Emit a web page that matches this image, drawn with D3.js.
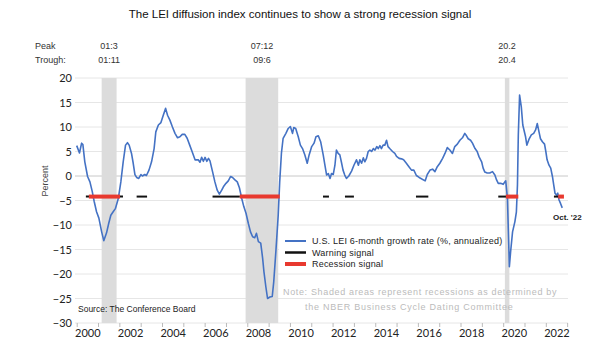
<!DOCTYPE html>
<html>
<head>
<meta charset="utf-8">
<title>LEI recession signal</title>
<script src="https://cdn.jsdelivr.net/npm/d3@7"></script>
<style>
    body { margin: 0; background: #fff; }
    svg { display: block; }
</style>
</head>
<body>
<div id="chart"></div>
<script>
/* ---- DATA -------------------------------------------------------------- */

// month (as decimal year) and U.S. LEI 6-month growth rate, % annualized
var dates = [
    2000.00, 2000.13, 2000.23, 2000.29, 2000.38, 2000.51, 2000.62, 2000.73, 2000.82, 2000.93,
    2001.04, 2001.17, 2001.27, 2001.40, 2001.50, 2001.60, 2001.71, 2001.82, 2001.95, 2002.07,
    2002.18, 2002.29, 2002.38, 2002.46, 2002.57, 2002.65, 2002.73, 2002.81, 2002.91, 2003.01,
    2003.08, 2003.19, 2003.27, 2003.39, 2003.51, 2003.63, 2003.71, 2003.83, 2003.95, 2004.06,
    2004.17, 2004.26, 2004.37, 2004.49, 2004.61, 2004.73, 2004.84, 2004.95, 2005.07, 2005.18,
    2005.30, 2005.41, 2005.55, 2005.70, 2005.78, 2005.86, 2005.94, 2006.02, 2006.10, 2006.18,
    2006.25, 2006.37, 2006.48, 2006.59, 2006.69, 2006.80, 2006.88, 2007.00, 2007.11, 2007.22,
    2007.31, 2007.42, 2007.53, 2007.63, 2007.74, 2007.84, 2007.94, 2008.05, 2008.15, 2008.25,
    2008.35, 2008.43, 2008.52, 2008.63, 2008.72, 2008.78, 2008.87, 2008.95, 2009.06, 2009.17,
    2009.24, 2009.34, 2009.45, 2009.52, 2009.60, 2009.68, 2009.81, 2009.92, 2010.02, 2010.12,
    2010.18, 2010.27, 2010.39, 2010.49, 2010.59, 2010.70, 2010.81, 2010.90, 2011.02, 2011.13,
    2011.22, 2011.33, 2011.44, 2011.56, 2011.64, 2011.72, 2011.80, 2011.88, 2011.95, 2012.03,
    2012.11, 2012.18, 2012.26, 2012.34, 2012.41, 2012.49, 2012.57, 2012.65, 2012.76, 2012.89,
    2013.00, 2013.12, 2013.21, 2013.28, 2013.36, 2013.44, 2013.51, 2013.59, 2013.67, 2013.75,
    2013.83, 2013.91, 2013.99, 2014.07, 2014.14, 2014.22, 2014.29, 2014.37, 2014.45, 2014.53,
    2014.60, 2014.68, 2014.81, 2014.92, 2015.00, 2015.12, 2015.23, 2015.33, 2015.46, 2015.58,
    2015.70, 2015.81, 2015.93, 2016.06, 2016.34, 2016.44, 2016.57, 2016.69, 2016.80,
    2016.91, 2017.03, 2017.16, 2017.27, 2017.38, 2017.50, 2017.62, 2017.73, 2017.85, 2017.97,
    2018.09, 2018.20, 2018.28, 2018.36, 2018.47, 2018.56, 2018.68, 2018.78, 2018.87, 2018.99,
    2019.06, 2019.14, 2019.25, 2019.37, 2019.50, 2019.61, 2019.69, 2019.77, 2019.88, 2020.00,
    2020.08, 2020.12, 2020.20, 2020.24, 2020.29, 2020.35, 2020.44, 2020.55, 2020.62, 2020.67,
    2020.71, 2020.77, 2020.85, 2020.92, 2021.05, 2021.11, 2021.22, 2021.32, 2021.43, 2021.52,
    2021.60, 2021.68, 2021.75, 2021.84, 2021.94, 2022.00, 2022.06, 2022.15, 2022.23, 2022.31,
    2022.37, 2022.43, 2022.50, 2022.56, 2022.62, 2022.69, 2022.77
];
var lei = [
    6.2, 4.7, 6.7, 6.4, 2.9, -0.1, -1.2, -3.2, -5.2, -7.3,
    -8.6, -11.4, -13.2, -11.6, -9.7, -8.0, -7.3, -6.6, -4.6, -1.2,
    2.9, 6.3, 6.8, 6.3, 4.6, 2.6, 0.3, -0.3, -0.5, 0.3,
    0.0, 0.3, 0.1, 1.2, 2.9, 5.6, 9.0, 10.4, 10.9, 12.4,
    13.8, 12.4, 11.4, 10.0, 8.7, 7.8, 8.0, 8.5, 8.5, 7.7,
    6.3, 5.0, 3.3, 3.3, 2.8, 3.8, 3.0, 3.8, 3.0, 3.6,
    3.1, 0.9, -1.2, -2.9, -3.7, -2.9, -2.2, -1.5, -1.0, -0.1,
    -0.3, -0.8, -1.2, -2.4, -4.6, -6.3, -7.6, -9.7, -11.4, -12.4,
    -12.6, -11.7, -13.4, -13.7, -16.8, -19.5, -22.6, -25.0, -24.7, -24.6,
    -21.6, -15.4, -8.0, -1.2, 4.6, 7.7, 8.7, 9.7, 10.1, 8.7,
    9.9, 9.7, 8.0, 6.3, 5.6, 4.3, 2.6, 4.3, 6.0, 6.7,
    8.0, 8.2, 7.0, 4.3, 2.2, 0.2, 0.5, -0.5, 0.5, 0.3,
    2.2, 5.3, 4.6, 4.3, 2.9, 1.2, 0.2, -0.5, 0.0, 1.0,
    2.2, 3.3, 2.2, 3.3, 2.6, 3.7, 2.9, 3.6, 5.0, 5.3,
    5.0, 5.6, 5.3, 6.0, 5.6, 6.2, 5.6, 6.3, 6.3, 7.3,
    6.0, 5.6, 5.0, 4.6, 4.0, 3.6, 3.5, 3.3, 2.6, 1.9,
    1.2, 1.2, 0.1, -0.3, -1.0, 0.3, 1.2, 1.4, 0.9,
    1.9, 2.6, 3.6, 4.6, 5.8, 5.3, 4.6, 6.0, 6.5, 7.3,
    7.8, 8.7, 8.2, 7.6, 7.3, 6.7, 5.6, 5.0, 3.9, 2.9,
    1.6, 0.8, 0.6, 0.6, 0.9, 0.2, -0.8, -1.5, -1.5, -1.7,
    -1.2, -1.0, -4.6, -10.7, -18.5, -15.4, -11.4, -9.3, -7.3, -1.8,
    8.4, 16.5, 14.1, 10.4, 8.0, 6.3, 7.6, 8.4, 8.7, 9.4,
    10.7, 9.0, 7.6, 7.0, 6.5, 5.0, 3.3, 2.2, 1.6, -0.1,
    -1.8, -3.5, -3.9, -3.5, -4.9, -5.6, -6.5
];

// NBER recessions (start, end)
var recessions = [[2001.17, 2001.87], [2007.92, 2009.45], [2020.08, 2020.29]];
var peakLabels = ["01:3", "07:12", "20.2"];
var troughLabels = ["01:11", "09:6", "20.4"];

// signal spans (start, end) drawn at the signal level
var warningSpans = [[2000.43, 2002.17], [2002.81, 2003.30], [2006.37, 2007.65], [2011.55, 2011.83],
                    [2012.58, 2013.00], [2015.91, 2016.49], [2019.77, 2020.13], [2022.38, 2022.58]];
var recessionSpans = [[2000.57, 2002.03], [2007.65, 2009.52], [2020.13, 2020.71], [2022.58, 2022.85]];
var signalLevel = -4.2;

var yTicks = [20, 15, 10, 5, 0, -5, -10, -15, -20, -25, -30];
var xLabels = [2000, 2002, 2004, 2006, 2008, 2010, 2012, 2014, 2016, 2018, 2020, 2022];
var yearTicks = d3.range(2000, 2024);

/* ---- DRAW ------------------------------------------------------------- */

var width = 600,
    height = 360,
    plotLeft = 75, plotRight = 568, plotTop = 78, plotBottom = 323;

var svg = d3.select("#chart")
    .append("svg")
    .attr("width", width)
    .attr("height", height)
    .style("font-family", "'Liberation Sans', Arial, sans-serif");

var x = d3.scaleLinear().domain([1999.92, 2023.04]).range([plotLeft, plotRight]);
var y = d3.scaleLinear().domain([-30, 20]).range([plotBottom, plotTop]);

// title
svg.append("text")
    .attr("x", 300).attr("y", 18)
    .attr("text-anchor", "middle")
    .style("font-size", "11.5px")
    .style("fill", "#111")
    .text("The LEI diffusion index continues to show a strong recession signal");

// horizontal gridlines
svg.append("g")
    .selectAll("line")
    .data(yTicks)
    .enter()
    .append("line")
    .attr("x1", plotLeft).attr("x2", plotRight)
    .attr("y1", function(d) { return y(d); })
    .attr("y2", function(d) { return y(d); })
    .attr("stroke", function(d) { return d === 0 ? "#c8c8c8" : "#e6e6e6"; })
    .attr("stroke-width", 1);

// recession shading
svg.append("g")
    .selectAll("rect")
    .data(recessions)
    .enter()
    .append("rect")
    .attr("x", function(d) { return x(d[0]); })
    .attr("width", function(d) { return x(d[1]) - x(d[0]); })
    .attr("y", plotTop)
    .attr("height", plotBottom - plotTop)
    .attr("fill", "#dcdcdc");

// peak / trough dates over each recession
svg.append("text").attr("x", 35).attr("y", 49).style("font-size", "9px").style("fill", "#333").text("Peak");
svg.append("text").attr("x", 35).attr("y", 63).style("font-size", "9px").style("fill", "#333").text("Trough:");
svg.append("g")
    .selectAll("text")
    .data(recessions)
    .enter()
    .append("text")
    .attr("x", function(d) { return (x(d[0]) + x(d[1])) / 2; })
    .attr("y", 49)
    .attr("text-anchor", "middle")
    .style("font-size", "9px")
    .style("fill", "#333")
    .text(function(d, i) { return peakLabels[i]; });
svg.append("g")
    .selectAll("text")
    .data(recessions)
    .enter()
    .append("text")
    .attr("x", function(d) { return (x(d[0]) + x(d[1])) / 2; })
    .attr("y", 63)
    .attr("text-anchor", "middle")
    .style("font-size", "9px")
    .style("fill", "#333")
    .text(function(d, i) { return troughLabels[i]; });

// y axis labels
var yAxis = svg.append("g")
    .attr("transform", "translate(" + plotLeft + ",0)")
    .call(d3.axisLeft(y).tickValues(yTicks).tickSize(0).tickPadding(3));
yAxis.select(".domain").remove();
yAxis.selectAll("text").style("font-family", "Lato, sans-serif").style("font-size", "11px").style("fill", "#222");

svg.append("text")
    .attr("transform", "translate(48," + y(-1) + ") rotate(-90)")
    .attr("text-anchor", "middle")
    .style("font-size", "9px")
    .style("fill", "#444")
    .text("Percent");

// x axis: small ticks at each year start, labels mid-year
var xTicks = svg.append("g")
    .attr("transform", "translate(0," + plotBottom + ")")
    .call(d3.axisBottom(x).tickValues(yearTicks).tickSize(4).tickFormat(""));
xTicks.select(".domain").remove();
xTicks.selectAll("line").attr("stroke", "#bbb");

var xAxis = svg.append("g")
    .attr("transform", "translate(0," + plotBottom + ")")
    .call(d3.axisBottom(x).tickValues(xLabels.map(function(d) { return d + 0.5; }))
        .tickSize(0).tickPadding(6).tickFormat(function(d) { return Math.floor(d); }));
xAxis.select(".domain").remove();
xAxis.selectAll("text").style("font-family", "Lato, sans-serif").style("font-size", "11px").style("fill", "#222");

// LEI line
var line = d3.line()
    .x(function(d, i) { return x(dates[i]); })
    .y(function(d) { return y(d); });

svg.append("path")
    .datum(lei)
    .attr("d", line)
    .attr("fill", "none")
    .attr("stroke", "#4472c4")
    .attr("stroke-width", 1.6)
    .attr("stroke-linejoin", "round");

// warning and recession signals
svg.append("g")
    .selectAll("line")
    .data(warningSpans)
    .enter()
    .append("line")
    .attr("x1", function(d) { return x(d[0]); })
    .attr("x2", function(d) { return x(d[1]); })
    .attr("y1", y(signalLevel)).attr("y2", y(signalLevel))
    .attr("stroke", "#111")
    .attr("stroke-width", 2);
svg.append("g")
    .selectAll("line")
    .data(recessionSpans)
    .enter()
    .append("line")
    .attr("x1", function(d) { return x(d[0]); })
    .attr("x2", function(d) { return x(d[1]); })
    .attr("y1", y(signalLevel)).attr("y2", y(signalLevel))
    .attr("stroke", "#e8392f")
    .attr("stroke-width", 4);

svg.append("text")
    .attr("x", 553).attr("y", 220)
    .style("font-size", "8px")
    .style("font-weight", "bold")
    .style("fill", "#222")
    .text("Oct. '22");

// legend
var legendItems = [
    { label: "U.S. LEI 6-month growth rate (%, annualized)", color: "#4472c4", w: 2 },
    { label: "Warning signal", color: "#111", w: 2.5 },
    { label: "Recession signal", color: "#e8392f", w: 4 }
];
svg.append("rect")
    .attr("x", 279).attr("y", 233).attr("width", 226).attr("height", 38)
    .attr("fill", "#fff");
var legend = svg.append("g")
    .selectAll("g")
    .data(legendItems)
    .enter()
    .append("g")
    .attr("transform", function(d, i) { return "translate(285," + (241 + i * 11.5) + ")"; });
legend.append("line")
    .attr("x1", 0).attr("x2", 21)
    .attr("stroke", function(d) { return d.color; })
    .attr("stroke-width", function(d) { return d.w; });
legend.append("text")
    .attr("x", 27).attr("y", 3)
    .style("font-size", "9px")
    .style("letter-spacing", "0.2px")
    .style("fill", "#222")
    .text(function(d) { return d.label; });

// note and source
svg.append("text")
    .attr("x", 283).attr("y", 295)
    .style("font-size", "9px")
    .style("letter-spacing", "0.65px")
    .style("fill", "#bbb")
    .text("Note: Shaded areas represent recessions as determined by");
svg.append("text")
    .attr("x", 305).attr("y", 310)
    .style("font-size", "9px")
    .style("letter-spacing", "0.75px")
    .style("fill", "#bbb")
    .text("the NBER Business Cycle Dating Committee");
svg.append("text")
    .attr("x", 78).attr("y", 312)
    .style("font-size", "8.5px")
    .style("fill", "#222")
    .text("Source: The Conference Board");
</script>
</body>
</html>
